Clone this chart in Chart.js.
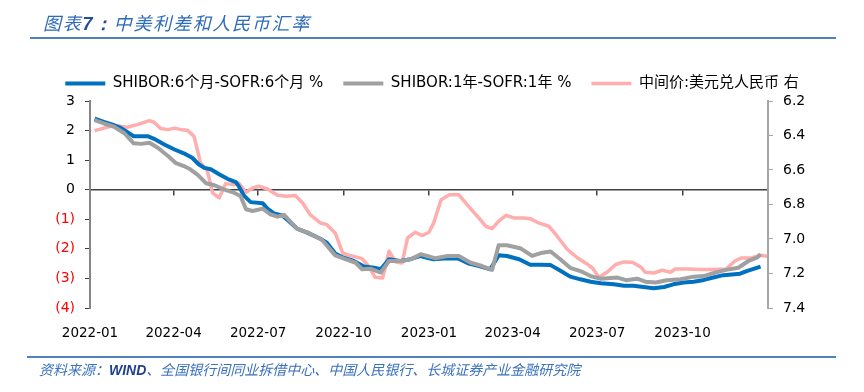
<!DOCTYPE html>
<html>
<head>
<meta charset="utf-8">
<script src="https://cdn.jsdelivr.net/npm/chart.js@4.4.1/dist/chart.umd.min.js"></script>
<style>
  html, body { margin: 0; padding: 0; background: #fff; }
  #wrap { position: relative; width: 864px; height: 392px; overflow: hidden; }
  #chart { position: absolute; left: 0; top: 0; }
  .title { position: absolute; left: 43px; top: 12px; white-space: nowrap;
    font: italic 18px/20px "Noto Sans CJK SC", sans-serif; letter-spacing: 1.7px; color: #2e6bb8; }
  .title b { font-family: "Liberation Sans", sans-serif; color: #1f4f99; }
  .rule { position: absolute; left: 30px; width: 806px; height: 2px; background: #4f81bd; }
  .src { position: absolute; left: 39px; top: 360px; white-space: nowrap;
    font: italic 14px/18px "Noto Sans CJK SC", sans-serif; color: #3a72bd; }
  .src b { font-family: "Liberation Sans", sans-serif; color: #1f3f8f; }
</style>
</head>
<body>
<div id="wrap">
  <canvas id="chart" width="864" height="392"></canvas>
  <div class="title">图表<b>7：</b>中美利差和人民币汇率</div>
  <div class="rule" style="top:37px"></div>
  <div class="rule" style="top:356px;left:27px;width:809px"></div>
  <div class="src">资料来源：<b>WIND</b>、全国银行间同业拆借中心、中国人民银行、长城证券产业金融研究院</div>
</div>
<script>
// x axis: quarterly labels
const tickLabels = ['2022-01', '2022-04', '2022-07', '2022-10', '2023-01', '2023-04', '2023-07', '2023-10'];
const xStart = '2022-01-01';
const xEnd = '2024-01-01';

// SHIBOR 6M - SOFR 6M (%)
const spread6mDates = ['2022-01-06','2022-01-16','2022-01-27','2022-02-03','2022-02-10','2022-02-17','2022-03-04','2022-03-11','2022-03-22','2022-04-02','2022-04-12','2022-04-21','2022-04-28','2022-05-04','2022-05-11','2022-05-20','2022-05-29','2022-06-07','2022-06-10','2022-06-16','2022-06-23','2022-07-06','2022-07-11','2022-07-18','2022-07-27','2022-08-03','2022-08-12','2022-08-23','2022-09-06','2022-09-13','2022-09-22','2022-10-01','2022-10-12','2022-10-23','2022-11-03','2022-11-10','2022-11-19','2022-12-01','2022-12-12','2022-12-23','2022-12-30','2023-01-06','2023-01-21','2023-02-02','2023-02-13','2023-02-26','2023-03-08','2023-03-17','2023-03-26','2023-04-08','2023-04-20','2023-05-01','2023-05-12','2023-05-23','2023-06-02','2023-06-13','2023-06-24','2023-07-05','2023-07-19','2023-07-30','2023-08-09','2023-08-20','2023-08-31','2023-09-11','2023-09-21','2023-10-02','2023-10-13','2023-10-24','2023-11-03','2023-11-14','2023-12-02','2023-12-09','2023-12-24'];
const spread6m = [2.40,2.29,2.18,2.09,1.95,1.81,1.81,1.72,1.53,1.36,1.23,1.08,0.86,0.74,0.69,0.52,0.37,0.26,0.13,-0.21,-0.42,-0.46,-0.64,-0.80,-0.87,-1.06,-1.32,-1.45,-1.66,-1.79,-2.16,-2.30,-2.41,-2.60,-2.64,-2.69,-2.35,-2.41,-2.35,-2.24,-2.30,-2.35,-2.32,-2.33,-2.50,-2.60,-2.69,-2.22,-2.24,-2.35,-2.54,-2.54,-2.55,-2.75,-2.94,-3.03,-3.11,-3.16,-3.20,-3.25,-3.25,-3.29,-3.33,-3.29,-3.20,-3.14,-3.11,-3.05,-2.97,-2.89,-2.84,-2.75,-2.60];

// SHIBOR 1Y - SOFR 1Y (%)
const spread1yDates = ['2022-01-06','2022-01-16','2022-01-27','2022-02-07','2022-02-17','2022-02-25','2022-03-06','2022-03-15','2022-03-26','2022-04-03','2022-04-12','2022-04-19','2022-04-27','2022-05-06','2022-05-15','2022-05-25','2022-06-05','2022-06-12','2022-06-18','2022-06-25','2022-07-06','2022-07-14','2022-07-22','2022-07-29','2022-08-12','2022-08-25','2022-09-08','2022-09-22','2022-10-03','2022-10-14','2022-10-21','2022-10-30','2022-11-10','2022-11-19','2022-12-03','2022-12-14','2022-12-23','2022-12-30','2023-01-08','2023-01-21','2023-02-02','2023-02-15','2023-02-27','2023-03-10','2023-03-17','2023-03-26','2023-04-10','2023-04-22','2023-05-03','2023-05-12','2023-05-23','2023-06-02','2023-06-13','2023-06-24','2023-07-05','2023-07-23','2023-08-01','2023-08-13','2023-08-22','2023-09-02','2023-09-14','2023-09-29','2023-10-13','2023-10-24','2023-11-03','2023-11-17','2023-11-30','2023-12-11','2023-12-20','2023-12-24'];
const spread1y = [2.35,2.24,2.13,1.91,1.57,1.55,1.59,1.42,1.14,0.91,0.80,0.69,0.50,0.22,0.15,0.01,-0.10,-0.21,-0.66,-0.72,-0.64,-0.83,-0.91,-0.85,-1.32,-1.47,-1.70,-2.22,-2.35,-2.47,-2.69,-2.67,-2.80,-2.41,-2.41,-2.33,-2.18,-2.24,-2.32,-2.24,-2.24,-2.47,-2.58,-2.71,-1.88,-1.88,-1.99,-2.24,-2.13,-2.09,-2.37,-2.64,-2.75,-2.92,-3.01,-2.97,-3.06,-3.01,-3.11,-3.14,-3.06,-3.03,-2.94,-2.92,-2.82,-2.71,-2.64,-2.41,-2.30,-2.18];

// USD/CNY central parity (right axis, reversed)
const usdcnyDates = ['2022-01-06','2022-01-16','2022-01-27','2022-02-10','2022-02-21','2022-03-06','2022-03-11','2022-03-18','2022-03-26','2022-04-02','2022-04-09','2022-04-16','2022-04-23','2022-04-30','2022-05-07','2022-05-13','2022-05-20','2022-05-27','2022-06-05','2022-06-10','2022-06-18','2022-06-25','2022-07-02','2022-07-11','2022-07-22','2022-08-01','2022-08-10','2022-08-18','2022-08-26','2022-09-06','2022-09-13','2022-09-22','2022-09-30','2022-10-08','2022-10-21','2022-10-28','2022-11-04','2022-11-12','2022-11-19','2022-11-26','2022-12-03','2022-12-09','2022-12-17','2022-12-25','2023-01-01','2023-01-06','2023-01-14','2023-01-23','2023-02-02','2023-02-11','2023-02-22','2023-03-03','2023-03-10','2023-03-17','2023-03-25','2023-04-03','2023-04-13','2023-04-20','2023-04-29','2023-05-10','2023-05-19','2023-05-30','2023-06-10','2023-06-21','2023-06-26','2023-07-03','2023-07-12','2023-07-21','2023-07-30','2023-08-08','2023-08-17','2023-08-22','2023-08-31','2023-09-09','2023-09-18','2023-09-23','2023-10-06','2023-10-20','2023-11-03','2023-11-17','2023-11-26','2023-12-03','2023-12-14','2023-12-24','2023-12-31'];
const usdcny = [6.372,6.357,6.341,6.352,6.337,6.314,6.323,6.360,6.366,6.357,6.366,6.370,6.405,6.559,6.598,6.733,6.762,6.679,6.685,6.675,6.729,6.704,6.694,6.710,6.747,6.752,6.748,6.791,6.859,6.907,6.917,6.965,7.081,7.096,7.114,7.158,7.222,7.226,7.071,7.133,7.139,6.994,6.961,6.980,6.961,6.907,6.772,6.743,6.743,6.801,6.868,6.926,6.940,6.897,6.863,6.878,6.878,6.882,6.907,6.926,6.984,7.061,7.110,7.148,7.168,7.222,7.191,7.148,7.133,7.135,7.162,7.193,7.197,7.181,7.193,7.174,7.174,7.177,7.177,7.174,7.129,7.110,7.110,7.094,7.100];

const FONT = '"DejaVu Sans", "Noto Sans CJK SC", sans-serif';
const DAY = 86400000;
const dayOf = s => (Date.parse(s.length === 7 ? s + '-01' : s) - Date.parse(xStart)) / DAY;
const pts = (dates, vals) => dates.map((d, i) => ({ x: dayOf(d), y: vals[i] }));
const quarterTicks = scale => { scale.ticks = tickLabels.map(l => ({ value: dayOf(l) })); };

new Chart(document.getElementById('chart').getContext('2d'), {
  type: 'line',
  data: {
    datasets: [
      { label: 'SHIBOR:6个月-SOFR:6个月 %', data: pts(spread6mDates, spread6m), yAxisID: 'y',
        borderColor: '#0070c0', backgroundColor: '#0070c0', borderWidth: 4, order: 1 },
      { label: 'SHIBOR:1年-SOFR:1年 %', data: pts(spread1yDates, spread1y), yAxisID: 'y',
        borderColor: '#a0a0a0', backgroundColor: '#a0a0a0', borderWidth: 4, order: 0 },
      { label: '中间价:美元兑人民币 右', data: pts(usdcnyDates, usdcny), yAxisID: 'y1',
        borderColor: '#ffadad', backgroundColor: '#ffadad', borderWidth: 3.5, order: 2 }
    ]
  },
  options: {
    responsive: false,
    animation: false,
    devicePixelRatio: 1,
    layout: { padding: { top: 56, left: 0, right: 0, bottom: 0 } },
    elements: {
      point: { radius: 0 },
      line: { tension: 0, borderJoinStyle: 'round', fill: false }
    },
    plugins: {
      tooltip: { enabled: false },
      legend: {
        position: 'top',
        labels: {
          usePointStyle: true, pointStyle: 'line', pointStyleWidth: 40,
          font: { family: FONT, size: 15 }, color: '#000', padding: 20,
          sort: (a, b) => a.datasetIndex - b.datasetIndex
        }
      }
    },
    scales: {
      x: {
        type: 'linear', position: { y: 0 },
        min: dayOf(xStart), max: dayOf(xEnd),
        afterBuildTicks: quarterTicks,
        ticks: { display: false },
        grid: { drawOnChartArea: false, drawTicks: true, tickLength: 5, color: '#404040', lineWidth: 1.5 },
        border: { color: '#404040', width: 1.5 }
      },
      x2: {
        type: 'linear', axis: 'x', position: 'bottom',
        min: dayOf(xStart), max: dayOf(xEnd),
        afterBuildTicks: quarterTicks,
        afterFit: s => { s.height = 84; },
        ticks: { padding: 9, color: '#000', font: { family: FONT, size: 13.5 },
          maxRotation: 0, autoSkip: false,
          callback: (v, i) => tickLabels[i] },
        grid: { display: false },
        border: { display: false }
      },
      y: {
        type: 'linear', position: 'left', min: -4, max: 3,
        afterFit: s => { s.width = 90; },
        ticks: { stepSize: 1, padding: 10, font: { family: FONT, size: 14 },
          color: c => c.tick.value < 0 ? '#ff0000' : '#000',
          callback: v => v < 0 ? '(' + Math.abs(v) + ')' : String(v) },
        grid: { drawOnChartArea: false, tickLength: 5, color: '#404040' },
        border: { color: '#868686', width: 2 }
      },
      y1: {
        type: 'linear', position: 'right', reverse: true, min: 6.2, max: 7.4,
        afterFit: s => { s.width = 96; },
        ticks: { stepSize: 0.2, padding: 10, color: '#000', font: { family: FONT, size: 14 },
          callback: v => v.toFixed(1) },
        grid: { drawOnChartArea: false, tickLength: 5, color: '#a6a6a6' },
        border: { color: '#a6a6a6', width: 2 }
      }
    }
  }
});
</script>
</body>
</html>
